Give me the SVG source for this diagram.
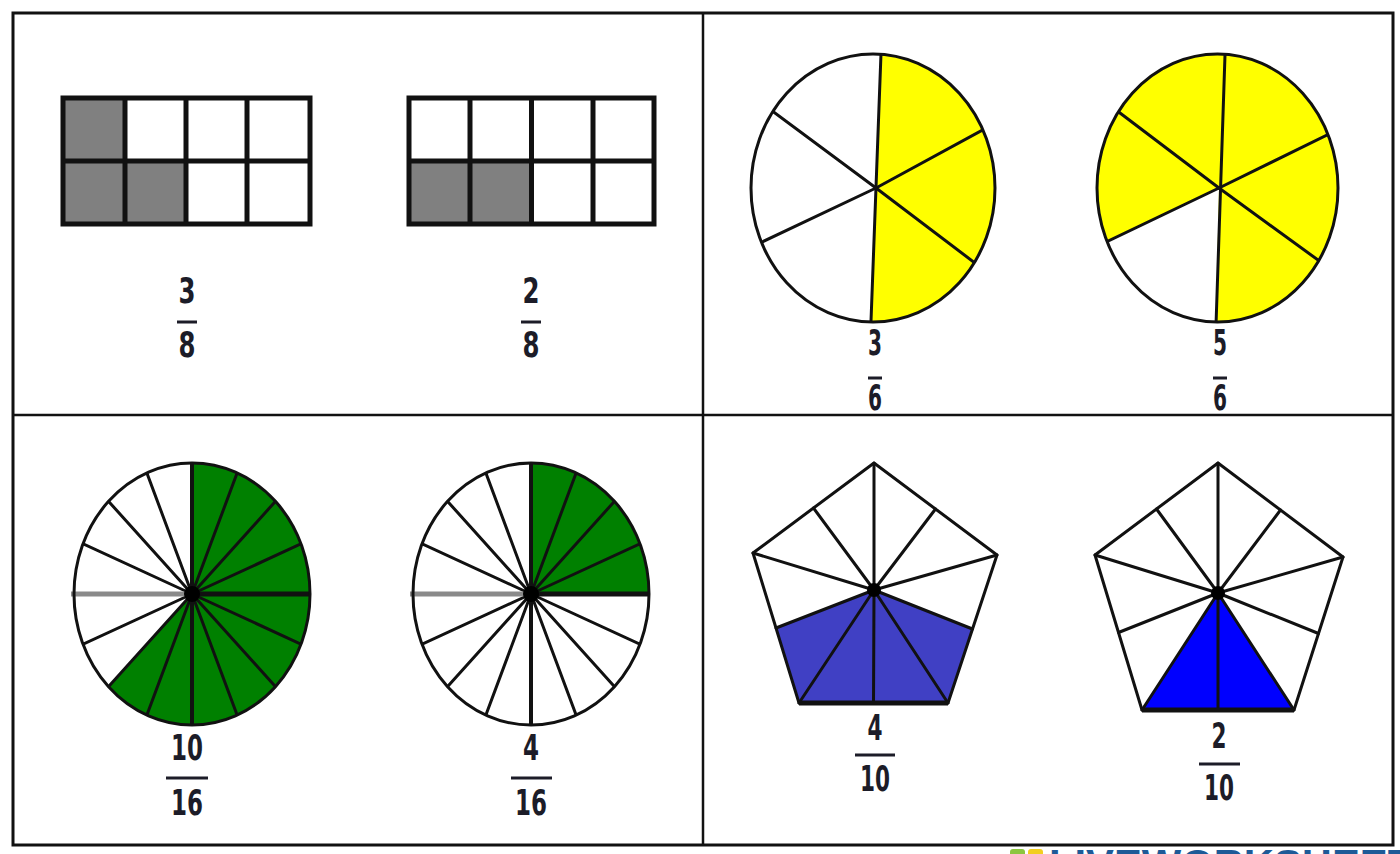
<svg xmlns="http://www.w3.org/2000/svg" xmlns:xlink="http://www.w3.org/1999/xlink" width="1400" height="854" viewBox="0 0 1400 854">
<style>
.frame{fill:none;stroke:#111;stroke-width:3}
.grid{fill:none;stroke:#111;stroke-width:5}
.sp{stroke:#111;stroke-width:3;stroke-linecap:round}
.outline{fill:none;stroke:#111;stroke-width:3}
.num{font-family:"DejaVu Sans",sans-serif;font-weight:bold;font-size:35px;fill:#1c1c28;text-anchor:middle}
.bar{stroke:#1c1c28;stroke-width:3}
.gray{fill:#808080}
</style>
<defs>
<clipPath id="ovalG"><ellipse cx="0" cy="0" rx="118" ry="131"/></clipPath>
<clipPath id="ovalY1"><ellipse cx="873" cy="188" rx="122" ry="134"/></clipPath>
<clipPath id="ovalY2"><ellipse cx="1217.5" cy="188" rx="120.5" ry="134"/></clipPath>
<g id="spokes16">
<line class="sp" x1="0" y1="0" x2="56.4" y2="-151.3"/>
<line class="sp" x1="0" y1="0" x2="104.3" y2="-115.8"/>
<line class="sp" x1="0" y1="0" x2="136.3" y2="-62.7"/>
<line class="sp" x1="0" y1="0" x2="136.3" y2="62.7"/>
<line class="sp" x1="0" y1="0" x2="104.3" y2="115.8"/>
<line class="sp" x1="0" y1="0" x2="56.4" y2="151.3"/>
<line class="sp" x1="0" y1="0" x2="-56.4" y2="151.3"/>
<line class="sp" x1="0" y1="0" x2="-104.3" y2="115.8"/>
<line class="sp" x1="0" y1="0" x2="-136.3" y2="62.7"/>
<line class="sp" x1="0" y1="0" x2="-136.3" y2="-62.7"/>
<line class="sp" x1="0" y1="0" x2="-104.3" y2="-115.8"/>
<line class="sp" x1="0" y1="0" x2="-56.4" y2="-151.3"/>
<line x1="0" y1="-165" x2="0" y2="165" stroke="#111" stroke-width="4"/>
<line x1="0" y1="0" x2="150" y2="0" stroke="#111" stroke-width="5"/>
</g>
</defs>
<rect width="1400" height="854" fill="#fff"/>

<g id="frame">
<rect class="frame" x="13" y="13" width="1380" height="832"/>
<line x1="703" y1="13" x2="703" y2="845" stroke="#111" stroke-width="2.5"/>
<line x1="13" y1="415" x2="1393" y2="415" stroke="#111" stroke-width="2.5"/>
</g>

<g id="rect-3-8">
<rect class="gray" x="63" y="98" width="62" height="126"/>
<rect class="gray" x="125" y="161" width="61" height="63"/>
<rect class="grid" x="63" y="98" width="247" height="126"/>
<line class="grid" x1="125" y1="98" x2="125" y2="224"/>
<line class="grid" x1="186" y1="98" x2="186" y2="224"/>
<line class="grid" x1="247" y1="98" x2="247" y2="224"/>
<line class="grid" x1="63" y1="161" x2="310" y2="161"/>
<text class="num" x="187" y="303" textLength="17" lengthAdjust="spacingAndGlyphs">3</text>
<line class="bar" x1="177" y1="322" x2="197" y2="322"/>
<text class="num" x="187" y="357" textLength="17" lengthAdjust="spacingAndGlyphs">8</text>
</g>

<g id="rect-2-8">
<rect class="gray" x="409" y="161" width="122.5" height="63"/>
<rect class="grid" x="409" y="98" width="245" height="126"/>
<line class="grid" x1="470" y1="98" x2="470" y2="224"/>
<line class="grid" x1="531.5" y1="98" x2="531.5" y2="224"/>
<line class="grid" x1="593" y1="98" x2="593" y2="224"/>
<line class="grid" x1="409" y1="161" x2="654" y2="161"/>
<text class="num" x="531" y="303" textLength="17" lengthAdjust="spacingAndGlyphs">2</text>
<line class="bar" x1="521" y1="322" x2="541" y2="322"/>
<text class="num" x="531" y="357" textLength="17" lengthAdjust="spacingAndGlyphs">8</text>
</g>

<g id="circle-3-6">
<ellipse cx="873" cy="188" rx="122" ry="134" fill="#fff"/>
<g clip-path="url(#ovalY1)">
<polygon fill="#ffff00" points="876,188 881.5,40 1010,40 1010,340 870.3,340"/>
<line class="sp" x1="881.5" y1="40" x2="870.3" y2="340"/>
<line class="sp" x1="876" y1="188" x2="999.6" y2="120.8"/>
<line class="sp" x1="876" y1="188" x2="990" y2="274.4"/>
<line class="sp" x1="876" y1="188" x2="754.8" y2="98"/>
<line class="sp" x1="876" y1="188" x2="739.2" y2="252.8"/>
</g>
<ellipse class="outline" cx="873" cy="188" rx="122" ry="134"/>
<text class="num" x="875" y="355" font-size="33" textLength="14" lengthAdjust="spacingAndGlyphs">3</text>
<line class="bar" x1="868" y1="378" x2="882" y2="378"/>
<text class="num" x="875" y="410" font-size="33" textLength="14" lengthAdjust="spacingAndGlyphs">6</text>
</g>

<g id="circle-5-6">
<ellipse cx="1217.5" cy="188" rx="120.5" ry="134" fill="#fff"/>
<g clip-path="url(#ovalY2)">
<polygon fill="#ffff00" points="1219,188 1215.5,340 1360,340 1360,30 1070,30 1070,259.2"/>
<line class="sp" x1="1225.5" y1="40" x2="1215.5" y2="340"/>
<line class="sp" x1="1219" y1="188" x2="1348.6" y2="124.4"/>
<line class="sp" x1="1219" y1="188" x2="1337.8" y2="274.4"/>
<line class="sp" x1="1219" y1="188" x2="1100.2" y2="98"/>
<line class="sp" x1="1219" y1="188" x2="1083.4" y2="252.8"/>
</g>
<ellipse class="outline" cx="1217.5" cy="188" rx="120.5" ry="134"/>
<text class="num" x="1220" y="355" font-size="33" textLength="14" lengthAdjust="spacingAndGlyphs">5</text>
<line class="bar" x1="1213" y1="378" x2="1227" y2="378"/>
<text class="num" x="1220" y="410" font-size="33" textLength="14" lengthAdjust="spacingAndGlyphs">6</text>
</g>

<g id="circle-10-16">
<g transform="translate(192,594)">
<ellipse rx="118" ry="131" fill="#fff"/>
<g clip-path="url(#ovalG)">
<polygon fill="#008000" points="0,0 0,-163.75 56.4,-151.3 104.3,-115.8 136.3,-62.7 147.5,0 136.3,62.7 104.3,115.8 56.4,151.3 0,163.75 -56.4,151.3 -104.3,115.8"/>
<use href="#spokes16" xlink:href="#spokes16"/>
</g>
<line x1="0" y1="0" x2="-121" y2="0" stroke="#8a8a8a" stroke-width="5"/>
<ellipse class="outline" rx="118" ry="131"/>
<circle r="8" fill="#000"/>
</g>
<text class="num" x="187" y="760" textLength="32" lengthAdjust="spacingAndGlyphs">10</text>
<line class="bar" x1="166" y1="778" x2="208" y2="778"/>
<text class="num" x="187" y="815" textLength="32" lengthAdjust="spacingAndGlyphs">16</text>
</g>

<g id="circle-4-16">
<g transform="translate(531,594)">
<ellipse rx="118" ry="131" fill="#fff"/>
<g clip-path="url(#ovalG)">
<polygon fill="#008000" points="0,0 0,-163.75 56.4,-151.3 104.3,-115.8 136.3,-62.7 147.5,0"/>
<use href="#spokes16" xlink:href="#spokes16"/>
</g>
<line x1="0" y1="0" x2="-121" y2="0" stroke="#8a8a8a" stroke-width="5"/>
<ellipse class="outline" rx="118" ry="131"/>
<circle r="8" fill="#000"/>
</g>
<text class="num" x="531" y="760" textLength="16" lengthAdjust="spacingAndGlyphs">4</text>
<line class="bar" x1="511" y1="778" x2="552" y2="778"/>
<text class="num" x="531" y="815" textLength="32" lengthAdjust="spacingAndGlyphs">16</text>
</g>

<g id="pentagon-4-10">
<polygon points="874,463 997,555 948,703 799,703 753,553" fill="#fff"/>
<polygon points="874,590 776,628 799,703 873.5,703 948,703 972.5,629" fill="#4040c4"/>
<line class="sp" x1="874" y1="590" x2="874" y2="463"/>
<line class="sp" x1="874" y1="590" x2="997" y2="555"/>
<line class="sp" x1="874" y1="590" x2="948" y2="703"/>
<line class="sp" x1="874" y1="590" x2="799" y2="703"/>
<line class="sp" x1="874" y1="590" x2="753" y2="553"/>
<line class="sp" x1="874" y1="590" x2="813.5" y2="508"/>
<line class="sp" x1="874" y1="590" x2="935.5" y2="509"/>
<line class="sp" x1="874" y1="590" x2="972.5" y2="629"/>
<line class="sp" x1="874" y1="590" x2="873.5" y2="703"/>
<line class="sp" x1="874" y1="590" x2="776" y2="628"/>
<polygon class="outline" stroke-linejoin="round" points="874,463 997,555 948,703 799,703 753,553"/>
<line x1="799" y1="703" x2="948" y2="703" stroke="#111" stroke-width="5"/>
<circle cx="874" cy="590" r="7" fill="#000"/>
<text class="num" x="875" y="740" textLength="15" lengthAdjust="spacingAndGlyphs">4</text>
<line class="bar" x1="855" y1="755" x2="895" y2="755"/>
<text class="num" x="875" y="791" textLength="30" lengthAdjust="spacingAndGlyphs">10</text>
</g>

<g id="pentagon-2-10">
<polygon points="1218,463 1343,557 1294,710 1142,710 1095,555" fill="#fff"/>
<polygon points="1218,593 1142,710 1294,710" fill="#0000ff"/>
<line class="sp" x1="1218" y1="593" x2="1218" y2="463"/>
<line class="sp" x1="1218" y1="593" x2="1343" y2="557"/>
<line class="sp" x1="1218" y1="593" x2="1294" y2="710"/>
<line class="sp" x1="1218" y1="593" x2="1142" y2="710"/>
<line class="sp" x1="1218" y1="593" x2="1095" y2="555"/>
<line class="sp" x1="1218" y1="593" x2="1156.5" y2="509"/>
<line class="sp" x1="1218" y1="593" x2="1280.5" y2="510"/>
<line class="sp" x1="1218" y1="593" x2="1318.5" y2="633.5"/>
<line class="sp" x1="1218" y1="593" x2="1218" y2="710"/>
<line class="sp" x1="1218" y1="593" x2="1118.5" y2="632.5"/>
<polygon class="outline" stroke-linejoin="round" points="1218,463 1343,557 1294,710 1142,710 1095,555"/>
<line x1="1142" y1="710" x2="1294" y2="710" stroke="#111" stroke-width="5"/>
<circle cx="1218" cy="593" r="7" fill="#000"/>
<text class="num" x="1219" y="748" textLength="15" lengthAdjust="spacingAndGlyphs">2</text>
<line class="bar" x1="1199" y1="764" x2="1240" y2="764"/>
<text class="num" x="1219" y="800" textLength="30" lengthAdjust="spacingAndGlyphs">10</text>
</g>

<g id="watermark">
<rect x="1010" y="849" width="15" height="14" rx="3" fill="#8cc63f"/>
<rect x="1028" y="849" width="15" height="14" rx="3" fill="#f2cf1f"/>
<text x="1049" y="878" font-family="Liberation Sans, sans-serif" font-weight="bold" font-size="40" fill="#1d5a97" textLength="392" lengthAdjust="spacingAndGlyphs">LIVEWORKSHEETS</text>
</g>
</svg>
